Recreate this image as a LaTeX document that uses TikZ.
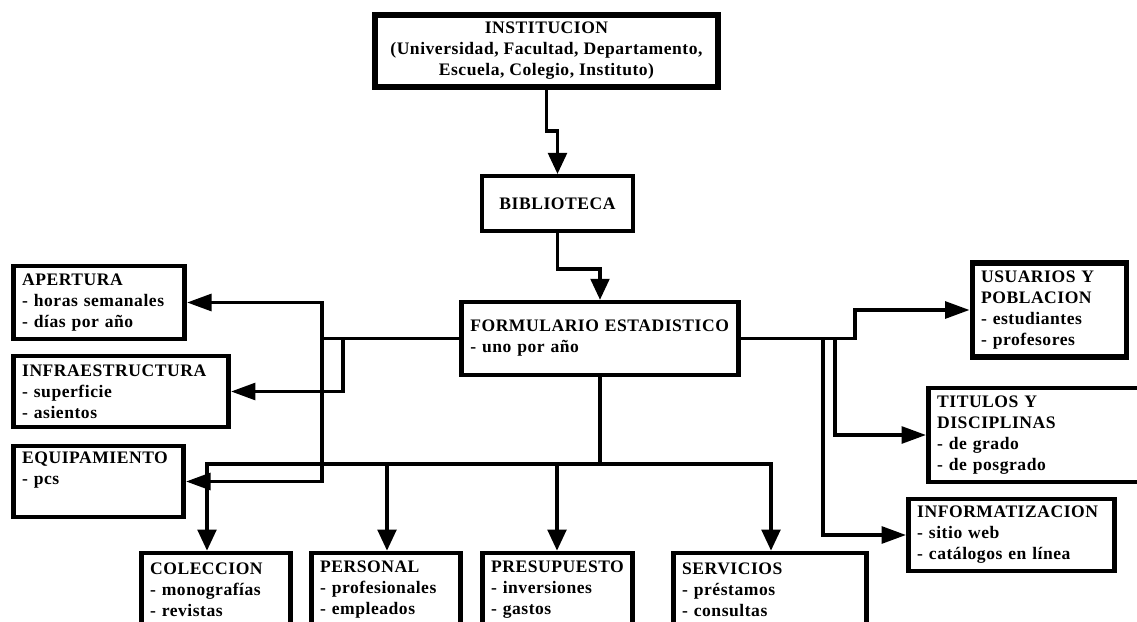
\documentclass[tikz,border=0pt]{standalone}
\usepackage{fontspec}
\setmainfont[LetterSpace=3]{Liberation Serif}
\usepackage{xcolor}
\usepackage{tikz}
\usetikzlibrary{arrows.meta}
\tikzset{
	caja/.style={draw, line width=2.6pt, inner xsep=5pt, inner ysep=0pt, align=left, font=\fontsize{10}{12}\selectfont\bfseries},
	linea/.style={line width=2.2pt},
	flechah/.style={linea, -{Triangle[length=14pt,width=9.5pt]}},
	flechav/.style={linea, -{Triangle[length=12pt,width=10.5pt]}},
}

\begin{document}
\begin{tikzpicture}[x=0.02cm,y=-0.02cm]
		\useasboundingbox (0,0) rectangle (1137,622);
		\clip (0,0) rectangle (1137,622);

		% cajas
		\node[caja, align=center, minimum width=6.86cm, minimum height=1.44cm, line width=3pt] (institucion) at (546.5,51) {INSTITUCION\\(Universidad, Facultad, Departamento,\\Escuela, Colegio, Instituto)};
		\node[caja, align=center, minimum width=3.02cm, minimum height=1.1cm, line width=2.2pt] (biblioteca) at (557.5,203.5) {BIBLIOTECA};
		\node[caja, text width=147.6pt, minimum height=1.46cm, line width=2.4pt] (formulario) at (600,338.5) {FORMULARIO ESTADISTICO\\- uno por año};

		\node[caja, text width=87.5pt, minimum height=1.46cm] (apertura) at (99,302.5) {APERTURA\\- horas semanales\\- días por año};
		\node[caja, text width=112.5pt, minimum height=1.42cm] (infra) at (121,391.5) {INFRAESTRUCTURA\\- superficie\\- asientos};
		\node[caja, text width=86.9pt, minimum height=1.42cm] (equip) at (98.5,481.5) {EQUIPAMIENTO\\- pcs\\\strut};

		\node[caja, text width=77.9pt, minimum height=1.88cm, line width=3pt] (usuarios) at (1049.5,310) {USUARIOS Y\\POBLACION\\- estudiantes\\- profesores};
		\node[caja, text width=115.9pt, minimum height=1.88cm] (titulos) at (1039,435) {TITULOS Y\\DISCIPLINAS\\- de grado\\- de posgrado};
		\node[caja, text width=107.3pt, minimum height=1.44cm] (informat) at (1011.5,535) {INFORMATIZACION\\- sitio web\\- catálogos en línea};

		\node[caja, text width=75pt, minimum height=1.46cm] (coleccion) at (216,589.5) {COLECCION\\- monografías\\- revistas};
		\node[caja, text width=75pt, minimum height=1.46cm] (personal) at (386,589.5) {PERSONAL\\- profesionales\\- empleados};
		\node[caja, text width=75.6pt, minimum height=1.46cm] (presupuesto) at (557.5,589.5) {PRESUPUESTO\\- inversiones\\- gastos};
		\node[caja, text width=100pt, minimum height=1.46cm] (servicios) at (770,589.5) {SERVICIOS\\- préstamos\\- consultas};

		% arriba
		\draw[flechav] (institucion.south) -- ++(0,41) -| (biblioteca.north);
		\draw[flechav] (biblioteca.south) -- ++(0,36) -| (formulario.north);

		% izquierda
		\coordinate (lt) at (322,302.5);
		\coordinate (lb) at (322,481.5);
		\coordinate (li) at (343,338.5);
		\draw[linea] (formulario.west) -- (lt |- formulario.west);
		\draw[flechah] (lt |- formulario.west) -- (lt) -- (apertura.east);
		\draw[flechah] (lt |- formulario.west) -- (lb) -- (equip.east);
		\draw[flechah] (li) |- (infra.east);

		% derecha
		\coordinate (ru) at (855,310);
		\coordinate (rt) at (835,338.5);
		\coordinate (rf) at (823,338.5);
		\draw[flechah] (formulario.east) -| (ru) -- (usuarios.west);
		\draw[flechah] (rt) |- (titulos.west);
		\draw[flechah] (rf) |- (informat.west);

		% abajo
		\coordinate (bus) at (600,464);
		\draw[linea] (formulario.south) -- (bus);
		\draw[linea, line cap=rect] (207,464) -- (771,464);
		\foreach \x/\n in {207/coleccion, 387/personal, 557/presupuesto, 771/servicios} {
			\coordinate (b\n) at (\x,464);
			\draw[flechav] (b\n) -- (b\n |- \n.north);
		}

\end{tikzpicture}
\end{document}
